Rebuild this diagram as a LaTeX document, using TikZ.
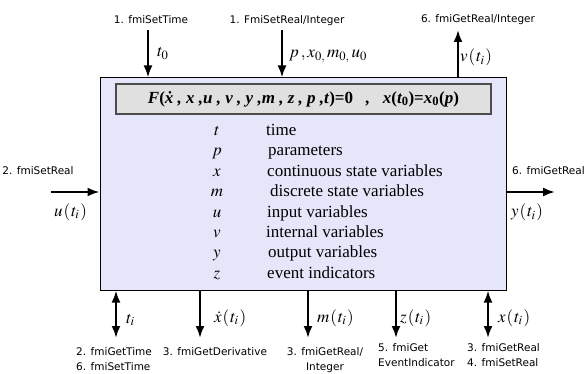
\documentclass[tikz,border=0pt]{standalone}
\usepackage{mathptmx}
\usepackage[no-math]{fontspec}
\setmainfont{Liberation Serif}
\newfontfamily\fmifont{DejaVu Sans}
\usetikzlibrary{arrows.meta}
\usetikzlibrary{positioning}

\definecolor{fmuback}{RGB}{230,230,250}
\definecolor{eqback}{RGB}{224,224,224}

\newcommand{\lp}{\textup{(}}
\newcommand{\rp}{\textup{)}}
\newcommand{\ofti}[1]{#1\mkern1mu(\mkern1mu t_i\mkern1mu)}

\tikzset{
  fmubox/.style = {draw=black, fill=fmuback, line width=1pt, minimum width=406pt, minimum height=212pt, inner sep=0pt},
  eqbox/.style = {draw=black!70, fill=eqback, line width=1.2pt, minimum width=375pt, minimum height=30pt, inner sep=0pt, font=\fontsize{17}{20}\selectfont\bfseries\itshape},
  sig/.style = {line width=2.2pt, -{Latex[length=12pt,width=9pt]}},
  sigboth/.style = {line width=2.2pt, {Latex[length=12pt,width=9pt]}-{Latex[length=12pt,width=9pt]}},
  fmi/.style = {font=\fmifont\fontsize{10.5}{15}\selectfont, inner sep=0pt, text height=8pt, text depth=2.5pt},
  sym/.style = {font=\fontsize{17}{20}\selectfont, inner sep=0pt, text height=12pt, text depth=4pt, anchor=west},
  varsym/.style = {font=\fontsize{17}{20}\selectfont, inner sep=0pt, text height=12pt, text depth=4pt},
  vartxt/.style = {font=\fontsize{17}{20}\selectfont, inner sep=0pt, text height=12pt, text depth=4pt, anchor=west}
}

\begin{document}
\begin{tikzpicture}[x=1pt, y=-1pt]
\useasboundingbox (0,0) rectangle (586,374);

%model box
\node[fmubox] (fmu) at (303,184) {};
\node[eqbox] (eq) at (303.5,99) {F\lp\.{x} , x ,u , v , y ,m , z , p ,t\rp\textup{=0}\ \ \ ,\ \ \ x\lp t\textsubscript{\upshape 0}\rp\textup{=}x\textsubscript{\upshape 0}\lp p\rp};

%variables
\node[varsym] (st) at (217,131.5) {$t$};
\node[vartxt] (lt) at (266,131.5) {time};
\node[varsym] (sp) at (217,151.9) {$p$};
\node[vartxt] (lp) at (268,151.9) {parameters};
\node[varsym] (sx) at (217,172.3) {$x$};
\node[vartxt] (lx) at (267,172.3) {continuous state variables};
\node[varsym] (sm) at (217,192.7) {$m$};
\node[vartxt] (lm) at (270,192.7) {discrete state variables};
\node[varsym] (su) at (217,213.1) {$u$};
\node[vartxt] (lu) at (267,213.1) {input variables};
\node[varsym] (sv) at (217,233.5) {$v$};
\node[vartxt] (lv) at (266,233.5) {internal variables};
\node[varsym] (sy) at (217,253.9) {$y$};
\node[vartxt] (ly) at (268,253.9) {output variables};
\node[varsym] (sz) at (217,274.3) {$z$};
\node[vartxt] (lz) at (267,274.3) {event indicators};

%top
\coordinate (inTime) at (148,30);
\draw[sig] (inTime) -- (inTime |- fmu.north);
\node[fmi] (setTime) at (151,21) {1. fmiSetTime};
\node[sym] (tzero) at (157,53) {$t_0$};

\coordinate (inPar) at (282,30);
\draw[sig] (inPar) -- (inPar |- fmu.north);
\node[fmi] (setPar) at (287,21) {1. FmiSetReal/Integer};
\node[sym] (pars) at (289,54) {$p\,, x_{0,}\, m_{0,}\, u_0$};

\coordinate (outV) at (458,30);
\draw[sig] (outV |- fmu.north) -- (outV);
\node[fmi] (getV) at (478,20) {6. fmiGetReal/Integer};
\node[sym] (vti) at (460,58) {$\ofti{v}$};

%left and right
\coordinate (inU) at (51,192);
\draw[sig] (inU) -- (inU -| fmu.west);
\node[fmi] (setU) at (38,172) {2. fmiSetReal};
\node[sym] (uti) at (54,212) {$\ofti{u}$};

\coordinate (outY) at (555,192);
\draw[sig] (outY -| fmu.east) -- (outY);
\node[fmi, anchor=east] (getY) at (585,172) {6. fmiGetReal};
\node[sym] (yti) at (511,213) {$\ofti{y}$};

%bottom
\coordinate (botT) at (116,338);
\draw[sigboth] (botT |- fmu.south) -- (botT);
\node[sym] (ti) at (126,319) {$t_i$};
\node[fmi, align=left, anchor=north west, text height=, text depth=] (getTime) at (76,347) {2. fmiGetTime\\6. fmiSetTime};

\coordinate (botDer) at (200,338);
\draw[sig] (botDer |- fmu.south) -- (botDer);
\node[sym] (xdot) at (214,318) {$\ofti{\dot{x}}$};
\node[fmi, anchor=north, text height=, text depth=] (getDer) at (215,347) {3. fmiGetDerivative};

\coordinate (botM) at (308,338);
\draw[sig] (botM |- fmu.south) -- (botM);
\node[sym] (mti) at (317,318) {$\ofti{m}$};
\node[fmi, align=center, anchor=north, text height=, text depth=] (getM) at (325,347) {3. fmiGetReal/\\Integer};

\coordinate (botZ) at (396,338);
\draw[sig] (botZ |- fmu.south) -- (botZ);
\node[sym] (zti) at (400,318) {$\ofti{z}$};
\node[fmi, align=left, anchor=north west, text height=, text depth=] (getZ) at (378,343) {5. fmiGet\\EventIndicator};

\coordinate (botX) at (488,338);
\draw[sigboth] (botX |- fmu.south) -- (botX);
\node[sym] (xti) at (498,318) {$\ofti{x}$};
\node[fmi, align=left, anchor=north west, text height=, text depth=] (getX) at (467,343) {3. fmiGetReal\\4. fmiSetReal};

\end{tikzpicture}
\end{document}
